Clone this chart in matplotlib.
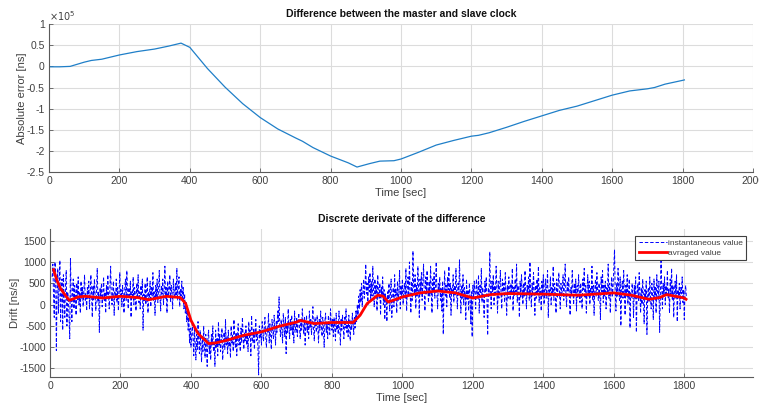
import matplotlib
matplotlib.use("Agg")
import matplotlib.pyplot as plt
import numpy as np
from matplotlib.ticker import FuncFormatter

plt.rcParams['font.family'] = ['Liberation Sans', 'DejaVu Sans']
plt.rcParams['axes.unicode_minus'] = False

# ---- top plot data (absolute error, in units of 1e5 ns) ----
err_t = [0, 30, 60, 100, 120, 150, 200, 250, 300, 340, 375, 400, 450, 500, 550, 600, 650,
         700, 720, 750, 800, 850, 875, 910, 940, 980, 1000, 1050, 1100, 1150, 1200, 1220,
         1250, 1300, 1350, 1400, 1450, 1500, 1550, 1600, 1650, 1700, 1720, 1750, 1800, 1805]
err_v = [-0.01, -0.01, 0.0, 0.10, 0.14, 0.17, 0.27, 0.35, 0.41, 0.48, 0.55, 0.45, -0.05,
         -0.49, -0.88, -1.21, -1.48, -1.69, -1.77, -1.92, -2.12, -2.28, -2.38, -2.30, -2.24,
         -2.23, -2.19, -2.03, -1.86, -1.75, -1.65, -1.63, -1.57, -1.44, -1.30, -1.17, -1.04,
         -0.94, -0.81, -0.68, -0.58, -0.53, -0.50, -0.42, -0.33, -0.32]

# ---- bottom plot data: instantaneous drift, one value every 2 s from t = 6 s ----
inst_t0, inst_dt = 6, 2
inst_v = [
    650, 950, 200, -300, 1000, 750, -1080, 300, 850, -200, 500, 1040, -400, 250, 600, -600, 700, 100, -300, 450, 800, -500, 300, 150, -350,
    -800, 1080, 200, -400, 350, 600, -100, 450, 250, -250, 500, 100, 650, 0, 300, -200, 550, 150, 400, -50, 350, 700, 100, 250, -150,
    400, 150, 550, -100, 300, 700, 200, -300, 450, 100, 600, 250, -150, 350, 850, 50, 300, -650, 400, 200, 500, -50, 250, 650, 100,
    300, -200, 450, 150, 700, 250, -100, 400, 900, 200, 0, 350, 550, -250, 300, 150, 600, 50, 400, -150, 250, 750, 150, 350, -50,
    450, 200, -200, 350, 600, 100, 800, 250, -100, 400, 150, 550, -300, 300, 200, 650, 0, 400, 250, -150, 500, 150, 700, 50, 300,
    -100, 450, 200, 600, -600, 250, 100, 500, 0, 350, 650, -200, 300, 150, 550, -50, 400, 200, 750, 100, 300, -250, 450, 150, 600,
    50, 350, 800, 200, -150, 450, 250, 600, 0, 300, 900, 150, 400, -200, 550, 200, 350, 700, 50, 450, 250, -100, 600, 300, 150,
    500, 200, 850, 100, 400, 650, -50, 350, 200, 550, 100, 400, -100, 250, -200, 50, -400, -100, -600, -300, -900, -550, -1000, -700, -450,
    -800, -1200, -550, -900, -1300, -700, -1050, -400, -850, -1150, -600, -950, -1350, -750, -1100, -500, -900, -1250, -700, -1000, -1450, -800, -600, -1150, -900,
    -1300, -700, -950, -500, -1100, -850, -1450, -600, -1000, -800, -1200, -400, -950, -700, -1100, -850, -550, -1300, -900, -650, -1050, -350, -950, -750, -1150,
    -600, -1000, -800, -1250, -500, -900, -700, -1100, -350, -850, -1000, -650, -1200, -750, -450, -950, -800, -1100, -550, -900, -300, -750, -1050, -650, -850,
    -500, -950, -700, -1100, -400, -800, -600, -1200, -250, -750, -900, -550, -1050, -650, -350, -850, -700, -1000, -1650, -500, -800, -600, -950, -400, -700,
    -850, -500, -300, -750, -1000, -550, -650, -200, -900, -450, -700, -1050, -350, -600, -800, -250, -550, -950, -400, -650, -150, -400, 180, -500, -750,
    -350, -600, -900, -200, -500, -750, -300, -1150, -450, -650, -100, -550, -800, -350, -600, -250, -700, -450, -900, -150, -500, -650, -300, -750, -400,
    -200, -550, -800, -350, -600, -100, -450, -700, -300, -950, -500, -250, -650, -400, -800, -150, -550, -350, -700, -450, -50, -600, -850, -300, -500,
    -650, -250, -550, -900, -350, -600, -150, -450, -750, -300, -550, -1000, -400, -200, -650, -450, -800, -250, -500, -700, -100, -400, -600, -350, -750,
    -300, -550, -850, -200, -600, -400, -700, -150, -500, -950, -350, -600, -250, -450, -800, -300, -550, -100, -650, -400, -750, -250, -500, -850, -350,
    -600, -200, -450, -700, -300, -550, -150, -400, 0, -250, 200, -100, 350, 50, 500, -50, 300, 600, 150, 450, 950, 250, 500, 0, 650,
    300, 750, 100, 550, 200, 900, 350, -50, 600, 250, 450, -150, 700, 300, 150, 500, -250, 400, 200, 650, 0, 350, -350, 250, 100,
    -400, 300, 50, 500, -150, 250, 600, -300, 150, 400, -50, 700, 200, 350, -200, 550, 100, 300, 800, -100, 450, 200, 600, 0, 350,
    500, 150, 850, -150, 400, 650, 200, 1000, 300, -200, 550, 100, 1260, 400, 250, 700, -100, 450, 200, 900, 350, -300, 600, 250, 750,
    100, 500, 950, 300, -150, 650, 250, 800, 400, 50, 550, 200, 900, 350, -200, 600, 300, 750, 150, 450, 1000, 250, -100, 500, 350,
    650, 100, 400, -150, 550, -700, 300, 800, 200, 450, -50, 650, 350, 900, 150, 500, -250, 400, 250, 700, 50, 450, 200, 850, 300,
    -100, 500, 200, 1050, 350, -200, 450, 150, 700, 0, 400, 250, -350, 600, 100, 350, -150, 500, 200, -450, 300, -760, 450, 150, 550,
    250, -100, 600, 300, 150, 700, -200, 450, 250, 850, 50, 400, 200, -300, 550, 300, 650, 100, -720, 400, 200, 1240, 350, -100, 550,
    300, 700, 0, 450, 200, 900, 350, -200, 550, 150, 400, 800, 250, -100, 600, 300, 500, 50, 750, 250, -250, 450, 150, 650, 350,
    100, 500, 250, 850, -150, 400, 200, 600, 300, 950, 50, 450, 250, -300, 550, 150, 700, 350, 0, 500, 200, 800, 300, -100, 450,
    250, 650, 100, 1000, 300, -50, 500, 200, 750, 350, -250, 450, 150, 600, 250, 900, 50, 400, 300, -150, 550, 200, 700, 0, 350,
    600, 150, 450, 800, -300, 350, 200, 650, 0, 400, 250, 900, 100, 500, 300, -200, 600, 150, 450, 750, 250, -100, 500, 200, 350,
    700, 100, 450, 950, 250, -50, 550, 300, 650, 150, -250, 400, 200, 800, 350, 0, 500, 250, 600, -150, 450, 150, 700, 300, 50,
    500, 250, -100, 600, 350, 850, 150, 450, -200, 300, 700, 200, 550, 0, 400, 250, 900, 100, 450, -250, 350, 600, 200, 750, 300,
    100, 500, 250, -350, 650, 300, 800, 50, 450, 200, 550, -100, 400, 250, 950, 150, 500, -200, 350, 650, 200, 450, 900, 1290, 300,
    -150, 500, 200, 850, 400, 100, 650, -500, 300, 550, 150, 800, 250, -250, 450, 200, 700, 0, 350, 600, -550, 300, 150, 500, 250,
    -300, 450, 150, 650, -650, 250, 500, 100, 750, 300, -200, 400, 0, 600, 200, -450, 350, 150, 550, -700, 250, 400, 50, 650, 200,
    -100, 500, 250, -350, 600, 150, 400, -200, 700, 300, 100, 550, -650, 250, 1020, 400, -100, 500, 200, 650, 0, 450, 250, 800, 150,
    350, -200, 600, 250, 850, 100, 450, -300, 300, 550, 150, 700, -400, 350, 200, 500, -100, 400, 250, 650, 50, 350, -350, 300, 450,
    150,
]
inst_t = inst_t0 + inst_dt * np.arange(len(inst_v))

avg_t = [10, 20, 30, 45, 55, 80, 100, 150, 200, 250, 280, 330, 370, 385, 400, 420, 450,
         470, 500, 550, 600, 650, 700, 710, 750, 800, 860, 880, 900, 930, 945, 960, 1000,
         1050, 1100, 1150, 1200, 1250, 1300, 1400, 1500, 1600, 1650, 1700, 1730, 1750,
         1800, 1805]
avg_v = [820, 560, 375, 200, 100, 180, 195, 155, 195, 165, 115, 195, 165, 25, -370, -680,
         -915, -900, -840, -720, -640, -510, -410, -370, -445, -420, -420, -250, 25, 220,
         200, 60, 180, 275, 320, 275, 155, 235, 260, 245, 220, 275, 220, 125, 165, 235,
         155, 125]

err_ticks = [-2.5, -2, -1.5, -1, -0.5, 0, 0.5, 1]

fig = plt.figure(figsize=(7.59, 4.05), dpi=100)
ax1 = fig.add_axes([0.0646, 0.575, 0.9275, 0.3655])
ax2 = fig.add_axes([0.0659, 0.0691, 0.9262, 0.3655])

txt_col = '#404040'
grid_col = '#dcdcdc'

def style(ax):
    for s in ['top', 'right']:
        ax.spines[s].set_visible(False)
    for s in ['left', 'bottom']:
        ax.spines[s].set_color('#5a5a5a')
        ax.spines[s].set_linewidth(0.8)
    ax.tick_params(direction='in', length=3, width=0.6, colors='#5a5a5a',
                   labelcolor=txt_col, labelsize=7.5, pad=3)
    ax.grid(True, color=grid_col, linewidth=0.8)
    ax.set_axisbelow(True)

# top
ax1.plot(err_t, err_v, color='#1f7fc8', linewidth=0.9)
ax1.set_xlim(0, 2000)
ax1.set_ylim(-2.5, 1)
ax1.set_xticks(range(0, 2001, 200))
ax1.set_yticks(err_ticks)
ax1.yaxis.set_major_formatter(FuncFormatter(lambda v, p: f"{v:g}"))
style(ax1)
ax1.set_title('Difference between the master and slave clock', fontsize=7.5,
              fontweight='bold', pad=5, color='#111111')
ax1.set_xlabel('Time [sec]', fontsize=8, color=txt_col, labelpad=1)
ax1.set_ylabel('Absolute error [ns]', fontsize=8, color=txt_col)
ax1.yaxis.set_label_coords(-0.031, 0.5)
ax1.text(0.0, 1.005, r'$\times10^{5}$', transform=ax1.transAxes, fontsize=7,
         color=txt_col, ha='left', va='bottom')

# bottom
ax2.plot(inst_t, inst_v, color='#0000ff', linewidth=0.7, linestyle=(0, (3.5, 2)),
         label='instantaneous value')
ax2.plot(avg_t, avg_v, color='#ff0000', linewidth=2, label='avraged value')
ax2.set_xlim(0, 1995)
ax2.set_ylim(-1700, 1775)
ax2.set_xticks(range(0, 1801, 200))
ax2.set_yticks([-1500, -1000, -500, 0, 500, 1000, 1500])
style(ax2)
ax2.set_title('Discrete derivate of the difference', fontsize=7.5,
              fontweight='bold', pad=5, color='#111111')
ax2.set_xlabel('Time [sec]', fontsize=8, color=txt_col, labelpad=1)
ax2.set_ylabel('Drift [ns/s]', fontsize=8, color=txt_col)
ax2.yaxis.set_label_coords(-0.043, 0.5)
leg = ax2.legend(loc='upper right', bbox_to_anchor=(0.99, 0.955), fontsize=6,
                 fancybox=False, edgecolor='#404040', framealpha=1,
                 handlelength=3.4, borderpad=0.4, labelspacing=0.3, handletextpad=0.1,
                 borderaxespad=0)
leg.get_frame().set_linewidth(0.8)
for t in leg.get_texts():
    t.set_color(txt_col)

fig.savefig('out.png', dpi=100, facecolor='white')
